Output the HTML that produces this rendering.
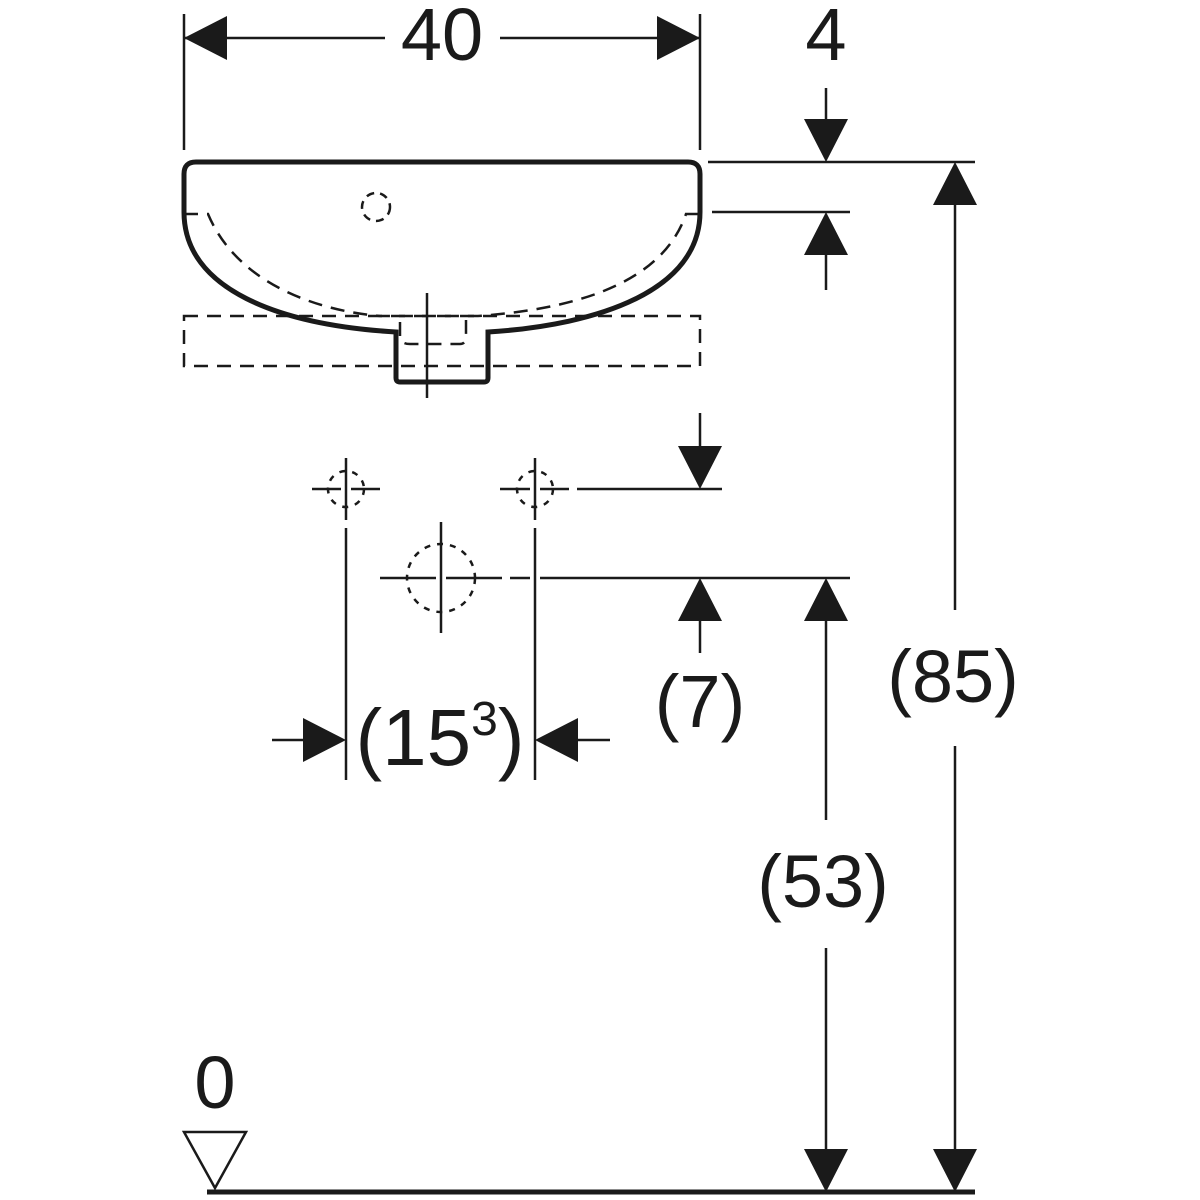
<!DOCTYPE html>
<html><head><style>body{margin:0;background:#fff}svg{display:block}</style></head><body>
<svg width="1200" height="1200" viewBox="0 0 1200 1200" xmlns="http://www.w3.org/2000/svg" font-family="Liberation Sans, sans-serif" fill="none" stroke="#1a1a1a">
<defs>
<path id="ah" d="M0,0 L-22,-43 L22,-43 Z" fill="#1a1a1a" stroke="none"/>
</defs>
<g stroke-width="2.5">
<line x1="184" y1="14" x2="184" y2="150"/>
<line x1="700" y1="14" x2="700" y2="150"/>
<line x1="184" y1="38" x2="385" y2="38"/>
<line x1="500" y1="38" x2="700" y2="38"/>
</g>
<use href="#ah" transform="translate(184,38) rotate(90)"/>
<use href="#ah" transform="translate(700,38) rotate(-90)"/>
<g fill="#1a1a1a" stroke="none" font-size="74" text-anchor="middle">
<text x="442" y="60">40</text>
<text x="826" y="60">4</text>
<text x="953" y="702">(85)</text>
<text x="700" y="727">(7)</text>
<text x="823" y="907">(53)</text>
<text x="215" y="1108">0</text>
<text x="440" y="765" font-size="80">(15<tspan font-size="48" dy="-30">3</tspan><tspan dy="30">)</tspan></text>
</g>
<path d="M196,162 L688,162 Q700,162 700,174 L700,212 C700,290 600,325 488,332 L488,378 Q488,382 484,382 L400,382 Q396,382 396,378 L396,332 C280,325 184,290 184,212 L184,174 Q184,162 196,162 Z" stroke-width="5"/>
<g stroke-width="2.5" stroke-dasharray="14,9">
<path d="M184,214 L208,214 C240,290 330,312 380,316 L478,316 C560,310 660,290 686,214 L700,214"/>
<rect x="184" y="316" width="516" height="50"/>
<path d="M400,322 L400,336 Q400,344 410,344 L460,344 Q466,344 466,336 L466,320"/>
<circle cx="376" cy="207" r="14" stroke-dasharray="8,6"/>
</g>
<line x1="427" y1="293" x2="427" y2="398" stroke-width="2.5"/>
<g stroke-width="2.5">
<line x1="708" y1="162" x2="975" y2="162"/>
<line x1="712" y1="212" x2="850" y2="212"/>
<line x1="826" y1="88" x2="826" y2="130"/>
<line x1="826" y1="250" x2="826" y2="290"/>
<line x1="955" y1="200" x2="955" y2="610"/>
<line x1="955" y1="746" x2="955" y2="1160"/>
<line x1="826" y1="610" x2="826" y2="820"/>
<line x1="826" y1="948" x2="826" y2="1160"/>
<line x1="700" y1="413" x2="700" y2="450"/>
<line x1="700" y1="615" x2="700" y2="653"/>
<line x1="312" y1="489" x2="341" y2="489"/><line x1="351" y1="489" x2="380" y2="489"/>
<line x1="346" y1="458" x2="346" y2="520"/><line x1="346" y1="528" x2="346" y2="780"/>
<line x1="500" y1="489" x2="530" y2="489"/><line x1="540" y1="489" x2="569" y2="489"/>
<line x1="577" y1="489" x2="722" y2="489"/>
<line x1="535" y1="458" x2="535" y2="520"/><line x1="535" y1="528" x2="535" y2="780"/>
<line x1="380" y1="578" x2="436" y2="578"/><line x1="446" y1="578" x2="502" y2="578"/>
<line x1="510" y1="578" x2="530" y2="578"/><line x1="540" y1="578" x2="850" y2="578"/>
<line x1="441" y1="522" x2="441" y2="633"/>
<line x1="272" y1="740" x2="310" y2="740"/>
<line x1="570" y1="740" x2="610" y2="740"/>
</g>
<g stroke-width="2.5" stroke-dasharray="6,7">
<circle cx="346" cy="489" r="18"/>
<circle cx="535" cy="489" r="18"/>
<circle cx="441" cy="578" r="34"/>
</g>
<use href="#ah" transform="translate(826,162)"/>
<use href="#ah" transform="translate(826,212) rotate(180)"/>
<use href="#ah" transform="translate(955,162) rotate(180)"/>
<use href="#ah" transform="translate(955,1192)"/>
<use href="#ah" transform="translate(826,578) rotate(180)"/>
<use href="#ah" transform="translate(826,1192)"/>
<use href="#ah" transform="translate(700,489)"/>
<use href="#ah" transform="translate(700,578) rotate(180)"/>
<use href="#ah" transform="translate(346,740) rotate(-90)"/>
<use href="#ah" transform="translate(535,740) rotate(90)"/>
<line x1="207" y1="1192" x2="975" y2="1192" stroke-width="5"/>
<path d="M184,1132 L246,1132 L215,1188 Z" stroke-width="2.5"/>
</svg>
</body></html>
